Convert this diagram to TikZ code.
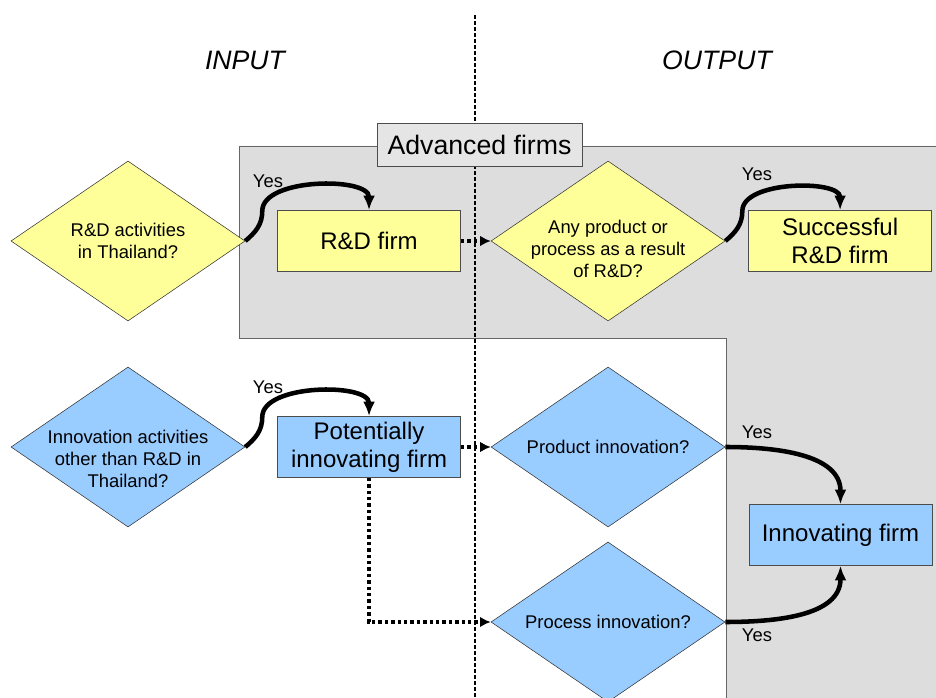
\documentclass[tikz,border=0pt]{standalone}
\usepackage{fontspec}
\setmainfont{Liberation Sans}
\usepackage{tikz}
\usetikzlibrary{positioning, shapes.geometric, arrows.meta}

\definecolor{lightyellow}{RGB}{255,255,153}
\definecolor{lightblue}{RGB}{153,204,255}
\definecolor{regiongray}{RGB}{221,221,221}

\begin{document}
\begin{tikzpicture}[
x=0.75pt, y=0.75pt,
yellowdiamond/.style={diamond, draw=black!80, fill=lightyellow, minimum width=175.5pt, minimum height=120pt, inner sep=0pt},
bluediamond/.style={yellowdiamond, fill=lightblue},
qtext/.style={font=\fontsize{13.8}{16.5}\selectfont, align=center, inner sep=0pt},
yellowbox/.style={rectangle, draw=black!70, fill=lightyellow, minimum width=137.25pt, minimum height=45.75pt, font=\fontsize{18}{21}\selectfont, align=center, inner sep=1pt},
bluebox/.style={yellowbox, fill=lightblue},
yestext/.style={font=\fontsize{13.8}{16.5}\selectfont},
headtext/.style={font=\fontsize{20}{24}\selectfont\itshape},
yesarrow/.style={-{Latex[length=11pt,width=9pt]}, line width=3.4pt},
dotarrow/.style={-{Latex[length=8pt,width=8pt]}, line width=3pt, dash pattern=on 2.6pt off 2.2pt},
]
    \useasboundingbox (0,0) rectangle (936,697);
    % shaded area and divider
    \draw[draw=black!60, fill=regiongray, line width=0.6pt] (239,551) -- (945,551) -- (945,-10) -- (726,-10) -- (726,359) -- (239,359) -- cycle;
    \draw[line width=0.8pt, dash pattern=on 3pt off 1.5pt] (475,682) -- (475,-5);

    \node[headtext]         (input)      at (245,637)                   {INPUT};
    \node[headtext]         (output)     at (717,637)                   {OUTPUT};
    \node[rectangle, draw=black!70, fill=gray!20, minimum width=153.75pt, minimum height=32.25pt, font=\fontsize{20}{24}\selectfont]
                            (advanced)   at (479.5,552.5)               {Advanced firms};

    \node[yellowdiamond]    (rdq)        at (128,456)  [label={[qtext]center:{R\&D activities\\in Thailand?}}]                                  {};
    \node[yellowbox]        (rdfirm)     [right=24pt of rdq]            {R\&D firm};
    \node[yellowdiamond]    (resultq)    [right=22.5pt of rdfirm, label={[qtext, yshift=-6pt]center:{Any product or\\process as a result\\of R\&D?}}] {};
    \node[yellowbox]        (succfirm)   [right=17.25pt of resultq]     {Successful\\R\&D firm};

    \node[bluediamond]      (innq)       at (128,250)  [label={[qtext, yshift=-9pt]center:{Innovation activities\\other than R\&D in\\Thailand?}}] {};
    \node[bluebox]          (potfirm)    [right=24pt of innq]           {Potentially\\innovating firm};
    \node[bluediamond]      (prodq)      [right=22.5pt of potfirm, label={[qtext]center:{Product innovation?}}]                          {};
    \node[bluediamond]      (procq)      at (608,75)   [label={[qtext]center:{Process innovation?}}]                                {};
    \node[bluebox]          (innfirm)    at (840.5,162)                 {Innovating firm};

    \node[yestext]          (yes1)       at (268,516)                   {Yes};
    \node[yestext]          (yes2)       at (268,310)                   {Yes};
    \node[yestext]          (yes3)       at (757,523)                   {Yes};
    \node[yestext]          (yes4)       at (757,265)                   {Yes};
    \node[yestext]          (yes5)       at (757,62)                    {Yes};

    \draw[yesarrow] (rdq.east) to[out=40, in=-90] ++(17,30) to[out=90, in=90, looseness=0.8] (rdfirm.north);
    \draw[yesarrow] (innq.east) to[out=40, in=-90] ++(17,30) to[out=90, in=90, looseness=0.8] (potfirm.north);
    \draw[yesarrow] (resultq.east) to[out=40, in=-90] ++(17,30) to[out=90, in=90, looseness=0.8] (succfirm.north);
    \draw[yesarrow] (prodq.east) to[out=0, in=90] (innfirm.north);
    \draw[yesarrow] (procq.east) to[out=0, in=-90] (innfirm.south);

    \draw[dotarrow] (rdfirm.east) -- (resultq.west);
    \draw[dotarrow] (potfirm.east) -- (prodq.west);
    \draw[dotarrow] (potfirm.south) |- (procq.west);
\end{tikzpicture}
\end{document}
